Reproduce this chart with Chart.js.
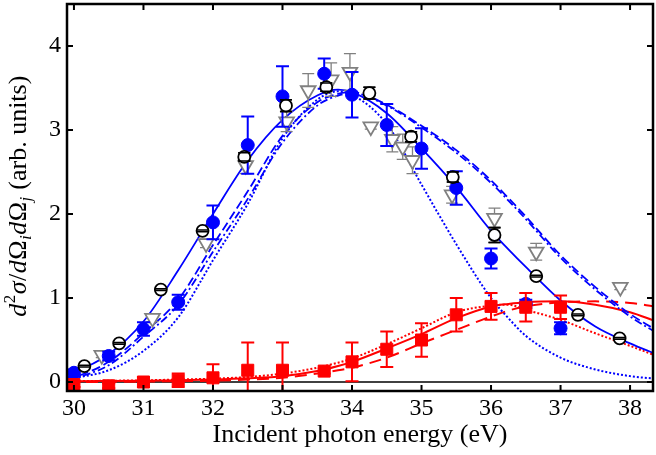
<!DOCTYPE html>
<html>
<head>
<meta charset="utf-8">
<script src="https://cdn.jsdelivr.net/npm/chart.js@4.4.1/dist/chart.umd.min.js"></script>
<style>
  body { margin: 0; background: #fff; }
</style>
</head>
<body>
<canvas id="chart" width="656" height="455"></canvas>
<script>
// tick labels
const xTicks = [30, 31, 32, 33, 34, 35, 36, 37, 38];
const yTicks = [0, 1, 2, 3, 4];

// filled blue circles
const blueX = [30, 30.5, 31, 31.5, 32, 32.5, 33, 33.6, 34, 34.5, 35, 35.5, 36, 36.5, 37];
const blueY = [0.11, 0.31, 0.63, 0.95, 1.9, 2.82, 3.4, 3.67, 3.42, 3.06, 2.78, 2.31, 1.47, 0.93, 0.64];
const blueErr = [0.04, 0.05, 0.08, 0.09, 0.2, 0.34, 0.36, 0.18, 0.27, 0.25, 0.24, 0.2, 0.12, 0.05, 0.07];

// open black circles
const openX = [30.15, 30.65, 31.25, 31.85, 32.45, 33.05, 33.63, 34.25, 34.85, 35.45, 36.05, 36.65, 37.25, 37.85];
const openY = [0.19, 0.46, 1.1, 1.8, 2.68, 3.29, 3.51, 3.44, 2.92, 2.44, 1.75, 1.26, 0.8, 0.52];
const openErr = [0.01, 0.01, 0.01, 0.01, 0.05, 0.07, 0.05, 0.07, 0.06, 0.06, 0.09, 0.01, 0.01, 0.01];

// grey down triangles
const grayX = [30.4, 31.13, 31.9, 32.47, 33.06, 33.37, 33.7, 33.97, 34.27, 34.58, 34.73, 34.87, 35.44, 36.05, 36.65, 37.86];
const grayY = [0.32, 0.76, 1.65, 2.58, 3.1, 3.47, 3.6, 3.69, 3.04, 2.89, 2.8, 2.64, 2.23, 1.95, 1.55, 1.13];
const grayErr = [0.03, 0.04, 0.05, 0.1, 0.12, 0.2, 0.2, 0.22, 0.03, 0.15, 0.15, 0.16, 0.1, 0.12, 0.1, 0.03];

// red squares
const redX = [30, 30.5, 31, 31.5, 32, 32.5, 33, 33.6, 34, 34.5, 35, 35.5, 36, 36.5, 37];
const redY = [-0.03, -0.045, 0.0, 0.02, 0.05, 0.14, 0.14, 0.13, 0.24, 0.39, 0.5, 0.8, 0.9, 0.89, 0.89];
const redErr = [0.03, 0.03, 0.06, 0.08, 0.16, 0.33, 0.33, 0.03, 0.23, 0.21, 0.2, 0.2, 0.16, 0.17, 0.14];

// model curves
const curveX = [29.9, 30, 30.5, 31, 31.5, 32, 32.5, 33, 33.5, 33.8, 34, 34.5, 35, 35.5, 36, 36.25, 36.5, 37, 37.5, 38, 38.35];
const blueSolid = [0.10, 0.12, 0.33, 0.72, 1.33, 2.0, 2.64, 3.12, 3.41, 3.48, 3.45, 3.2, 2.78, 2.32, 1.8, 1.58, 1.37, 0.97, 0.66, 0.46, 0.34];
const blueDotted = [0.04, 0.05, 0.14, 0.37, 0.77, 1.45, 2.12, 2.9, 3.36, 3.46, 3.42, 3.07, 2.35, 1.64, 1.0, 0.76, 0.55, 0.29, 0.15, 0.07, 0.04];
const blueDashed = [0.05, 0.06, 0.24, 0.58, 0.98, 1.63, 2.27, 2.93, 3.33, 3.43, 3.45, 3.3, 3.05, 2.76, 2.4, 2.19, 1.97, 1.51, 1.13, 0.81, 0.63];
const blueDashDot = [0.04, 0.05, 0.2, 0.54, 0.92, 1.55, 2.18, 2.85, 3.29, 3.41, 3.44, 3.29, 3.03, 2.73, 2.37, 2.16, 1.94, 1.48, 1.1, 0.78, 0.6];
const redSolid = [0.01, 0.01, 0.012, 0.015, 0.02, 0.03, 0.045, 0.07, 0.13, 0.19, 0.24, 0.4, 0.57, 0.76, 0.9, 0.93, 0.95, 0.96, 0.92, 0.83, 0.73];
const redDotted = [0.01, 0.01, 0.015, 0.02, 0.03, 0.04, 0.06, 0.1, 0.17, 0.23, 0.28, 0.45, 0.64, 0.83, 0.91, 0.92, 0.86, 0.74, 0.58, 0.43, 0.32];
const redDashed = [0, 0, 0.002, 0.005, 0.01, 0.015, 0.03, 0.05, 0.1, 0.14, 0.17, 0.29, 0.46, 0.62, 0.78, 0.85, 0.9, 0.95, 0.96, 0.94, 0.9];

const BLUE = '#0000ff';
const RED = '#ff0000';
const GREY = '#808080';
const SERIF = "'Liberation Serif', 'DejaVu Serif', serif";

const pts = (xs, ys) => xs.map((x, i) => ({ x: x, y: ys[i] }));

function curve(ys, color, dash, width) {
    return {
        data: pts(curveX, ys),
        borderColor: color,
        borderWidth: width,
        borderDash: dash,
        pointRadius: 0,
        fill: false,
        cubicInterpolationMode: 'monotone',
        order: 10
    };
}

function drawErrors(chart, index, capsOnly) {
    const ds = chart.data.datasets[index];
    if (!ds.errors) return;
    const { ctx, chartArea: a, scales: { x, y } } = chart;
    ctx.save();
    ctx.beginPath();
    ctx.rect(a.left, a.top, a.right - a.left, a.bottom - a.top);
    ctx.clip();
    ctx.strokeStyle = ds.errorColor;
    ctx.lineWidth = ds.errorWidth;
    ds.data.forEach((p, i) => {
        const e = ds.errors[i];
        const px = x.getPixelForValue(p.x);
        const top = y.getPixelForValue(p.y + e);
        const bot = y.getPixelForValue(p.y - e);
        const c = ds.capHalf;
        ctx.beginPath();
        if (!capsOnly) {
            ctx.moveTo(px, top); ctx.lineTo(px, bot);
        }
        ctx.moveTo(px - c, top); ctx.lineTo(px + c, top);
        ctx.moveTo(px - c, bot); ctx.lineTo(px + c, bot);
        ctx.stroke();
    });
    ctx.restore();
}

// error bars under the markers; caps again on top where asked
const errorBars = {
    id: 'errorBars',
    beforeDatasetDraw(chart, args) {
        drawErrors(chart, args.index, false);
    },
    afterDatasetDraw(chart, args) {
        if (chart.data.datasets[args.index].capsOnTop) drawErrors(chart, args.index, true);
    }
};

// zero line, box, inward ticks and the y title
const frame = {
    id: 'frame',
    beforeDatasetsDraw(chart) {
        const { ctx, chartArea: a, scales: { y } } = chart;
        const y0 = y.getPixelForValue(0);
        ctx.save();
        ctx.strokeStyle = '#000';
        ctx.lineWidth = 1.3;
        ctx.beginPath();
        ctx.moveTo(a.left, y0);
        ctx.lineTo(a.right, y0);
        ctx.stroke();
        ctx.restore();
    },
    afterDraw(chart) {
        const { ctx, chartArea: a, scales: { x, y } } = chart;
        ctx.save();
        ctx.strokeStyle = '#000';
        ctx.lineWidth = 2;
        ctx.beginPath();
        xTicks.forEach(v => {
            const px = x.getPixelForValue(v);
            ctx.moveTo(px, a.bottom); ctx.lineTo(px, a.bottom - 6);
            ctx.moveTo(px, a.top); ctx.lineTo(px, a.top + 6);
        });
        yTicks.forEach(v => {
            const py = y.getPixelForValue(v);
            ctx.moveTo(a.left, py); ctx.lineTo(a.left + 6, py);
            ctx.moveTo(a.right, py); ctx.lineTo(a.right - 6, py);
        });
        ctx.stroke();
        ctx.lineWidth = 2.5;
        ctx.strokeRect(a.left, a.top, a.right - a.left, a.bottom - a.top);

        // y title with super/subscripts
        const parts = [
            ['d', 'italic 26px ' + SERIF, 0],
            ['2', '17px ' + SERIF, -11],
            ['σ', 'italic 26px ' + SERIF, 0],
            ['/', '26px ' + SERIF, 0],
            ['d', 'italic 26px ' + SERIF, 0],
            ['Ω', '26px ' + SERIF, 0],
            ['i', 'italic 17px ' + SERIF, 5],
            ['d', 'italic 26px ' + SERIF, 0],
            ['Ω', '26px ' + SERIF, 0],
            ['j', 'italic 17px ' + SERIF, 5],
            [' (arb. units)', '26px ' + SERIF, 0]
        ];
        ctx.fillStyle = '#000';
        ctx.textBaseline = 'alphabetic';
        ctx.textAlign = 'left';
        let total = 0;
        parts.forEach(p => { ctx.font = p[1]; total += ctx.measureText(p[0]).width + 0.5; });
        ctx.translate(26, 196);
        ctx.rotate(-Math.PI / 2);
        let cx = -total / 2;
        parts.forEach(p => {
            ctx.font = p[1];
            ctx.fillText(p[0], cx, p[2]);
            cx += ctx.measureText(p[0]).width + 0.5;
        });
        ctx.restore();
    }
};

Chart.defaults.color = '#000';
Chart.defaults.font.family = SERIF;

new Chart(document.getElementById('chart'), {
    type: 'line',
    data: {
        datasets: [
            curve(blueSolid, BLUE, [], 1.8),
            curve(blueDotted, BLUE, [2, 2], 2),
            curve(blueDashed, BLUE, [9, 4], 1.8),
            curve(blueDashDot, BLUE, [8, 3, 2, 3], 1.8),
            curve(redSolid, RED, [], 2),
            curve(redDotted, RED, [2, 2], 2),
            curve(redDashed, RED, [12, 7], 2),
            {
                data: pts(grayX, grayY),
                showLine: false,
                pointStyle: 'triangle',
                pointRotation: 180,
                pointRadius: 8.5,
                pointBackgroundColor: '#fff',
                pointBorderColor: GREY,
                pointBorderWidth: 1.8,
                errors: grayErr, errorColor: GREY, errorWidth: 1.3, capHalf: 6,
                order: 5
            },
            {
                data: pts(blueX, blueY),
                showLine: false,
                pointStyle: 'circle',
                pointRadius: 6.5,
                pointBackgroundColor: BLUE,
                pointBorderColor: BLUE,
                pointBorderWidth: 1,
                errors: blueErr, errorColor: BLUE, errorWidth: 2, capHalf: 6.5,
                order: 4
            },
            {
                data: pts(openX, openY),
                showLine: false,
                pointStyle: 'circle',
                pointRadius: 6,
                pointBackgroundColor: '#fff',
                pointBorderColor: '#000',
                pointBorderWidth: 1.8,
                errors: openErr, errorColor: '#000', errorWidth: 1.5, capHalf: 6, capsOnTop: true,
                order: 3
            },
            {
                data: pts(redX, redY),
                showLine: false,
                pointStyle: 'rect',
                pointRadius: 8.5,
                pointBackgroundColor: RED,
                pointBorderColor: RED,
                pointBorderWidth: 1,
                errors: redErr, errorColor: RED, errorWidth: 2, capHalf: 6.5,
                order: 2
            }
        ]
    },
    options: {
        responsive: false,
        animation: false,
        layout: { autoPadding: false, padding: { top: 4, right: 3, left: 0, bottom: 0 } },
        plugins: { legend: { display: false }, tooltip: { enabled: false } },
        scales: {
            x: {
                type: 'linear',
                min: 29.9,
                max: 38.33,
                afterBuildTicks: s => { s.ticks = xTicks.map(v => ({ value: v })); },
                afterFit: s => { s.height = 64; s.paddingLeft = 0; s.paddingRight = 0; },
                grid: { display: false, drawTicks: false },
                border: { display: false },
                ticks: { font: { size: 24 }, padding: 3, maxRotation: 0, callback: v => String(v) },
                title: {
                    display: true,
                    text: 'Incident photon energy (eV)',
                    font: { size: 26 },
                    padding: { top: 0, bottom: 4 }
                }
            },
            y: {
                type: 'linear',
                min: -0.107,
                max: 4.5,
                afterBuildTicks: s => { s.ticks = yTicks.map(v => ({ value: v })); },
                afterFit: s => { s.width = 67; s.paddingTop = 0; s.paddingBottom = 0; },
                grid: { display: false, drawTicks: false },
                border: { display: false },
                ticks: { font: { size: 24 }, padding: 6, callback: v => String(v) }
            }
        }
    },
    plugins: [errorBars, frame]
});
</script>
</body>
</html>
